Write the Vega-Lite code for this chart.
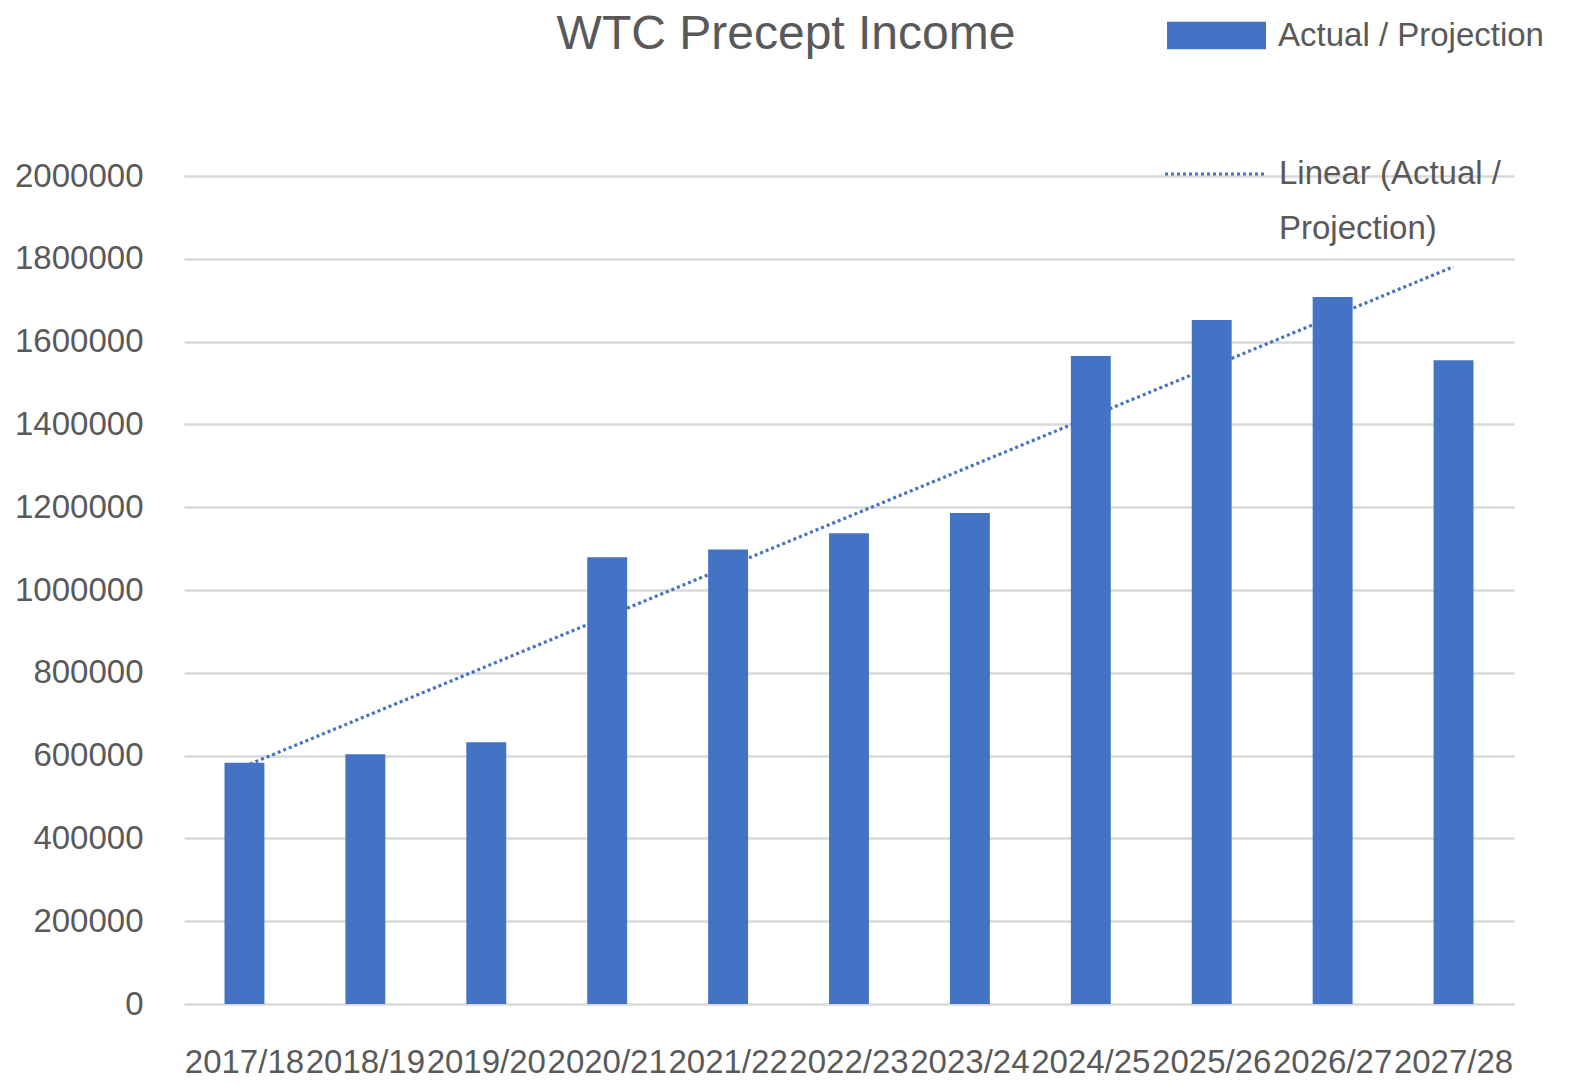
{
  "$schema": "https://vega.github.io/schema/vega-lite/v6.json",
  "width": 1330,
  "height": 828,
  "autosize": {"type": "none"},
  "padding": {"left": 184, "top": 176, "right": 64, "bottom": 84},
  "background": "white",
  "title": {
    "text": "WTC Precept Income",
    "font": "Liberation Sans",
    "fontSize": 48,
    "fontWeight": "normal",
    "color": "#595959",
    "anchor": "middle",
    "dx": -63,
    "offset": -73
  },
  "datasets": {
    "bars": [
      {"year": "2017/18", "value": 583000, "series": "Actual / Projection"},
      {"year": "2018/19", "value": 603000, "series": "Actual / Projection"},
      {"year": "2019/20", "value": 632000, "series": "Actual / Projection"},
      {"year": "2020/21", "value": 1079000, "series": "Actual / Projection"},
      {"year": "2021/22", "value": 1098000, "series": "Actual / Projection"},
      {"year": "2022/23", "value": 1137000, "series": "Actual / Projection"},
      {"year": "2023/24", "value": 1186000, "series": "Actual / Projection"},
      {"year": "2024/25", "value": 1565000, "series": "Actual / Projection"},
      {"year": "2025/26", "value": 1652000, "series": "Actual / Projection"},
      {"year": "2026/27", "value": 1708000, "series": "Actual / Projection"},
      {"year": "2027/28", "value": 1555000, "series": "Actual / Projection"}
    ],
    "trend": [
      {"year": "2017/18", "value": 574000, "series": "Linear (Actual / Projection)"},
      {"year": "2027/28", "value": 1781000, "series": "Linear (Actual / Projection)"}
    ]
  },
  "layer": [
    {
      "data": {"name": "trend"},
      "mark": {"type": "line", "color": "#4472C4", "strokeWidth": 3.2},
      "encoding": {
        "x": {"field": "year", "type": "nominal", "sort": null},
        "y": {"field": "value", "type": "quantitative"},
        "strokeDash": {
          "field": "series",
          "type": "nominal",
          "scale": {"domain": ["Linear (Actual / Projection)"], "range": [[3, 3]]},
          "legend": {
            "orient": "none",
            "legendX": 979,
            "legendY": -54,
            "title": null,
            "padding": 0,
            "symbolType": "stroke",
            "symbolSize": 10000,
            "symbolStrokeColor": "#4472C4",
            "symbolStrokeWidth": 3.2,
            "labelBaseline": "middle",
            "labelFontSize": 33,
            "labelOffset": 12,
            "labelLimit": 0,
            "labelExpr": "['Linear (Actual /', 'Projection)']"
          }
        }
      }
    },
    {
      "data": {"name": "bars"},
      "mark": {"type": "bar"},
      "encoding": {
        "x": {
          "field": "year",
          "type": "nominal",
          "sort": null,
          "scale": {
            "domain": ["2017/18", "2018/19", "2019/20", "2020/21", "2021/22", "2022/23", "2023/24", "2024/25", "2025/26", "2026/27", "2027/28"],
            "paddingInner": 0.67,
            "paddingOuter": 0.335
          },
          "axis": {
            "title": null,
            "bandPosition": 0.5,
            "labelAngle": 0,
            "labelAlign": "center",
            "labelOverlap": false,
            "labelLimit": 0,
            "labelFontSize": 33,
            "labelPadding": 58,
            "ticks": false,
            "domain": false,
            "grid": false
          }
        },
        "y": {
          "field": "value",
          "type": "quantitative",
          "scale": {"domain": [0, 2000000]},
          "axis": {
            "title": null,
            "values": [0, 200000, 400000, 600000, 800000, 1000000, 1200000, 1400000, 1600000, 1800000, 2000000],
            "format": "d",
            "labelFontSize": 33,
            "labelPadding": 41,
            "ticks": false,
            "domain": false,
            "gridColor": "#d9d9d9",
            "gridWidth": 2.5
          }
        },
        "color": {
          "field": "series",
          "type": "nominal",
          "scale": {"domain": ["Actual / Projection"], "range": ["#4472C4"]},
          "legend": {
            "orient": "none",
            "legendX": 983,
            "legendY": -190,
            "title": null,
            "padding": 0,
            "symbolType": "M-1,-0.28H1V0.28H-1Z",
            "symbolSize": 9801,
            "symbolStrokeWidth": 0,
            "symbolOpacity": 1,
            "labelFontSize": 33,
            "labelOffset": 12,
            "labelLimit": 0
          }
        }
      }
    }
  ],
  "config": {
    "font": "Liberation Sans",
    "view": {"stroke": null},
    "axis": {"labelColor": "#595959", "labelFont": "Liberation Sans"},
    "legend": {"labelColor": "#595959", "labelFont": "Liberation Sans"},
    "style": {"guide-label": {"lineHeight": 55}}
  }
}
